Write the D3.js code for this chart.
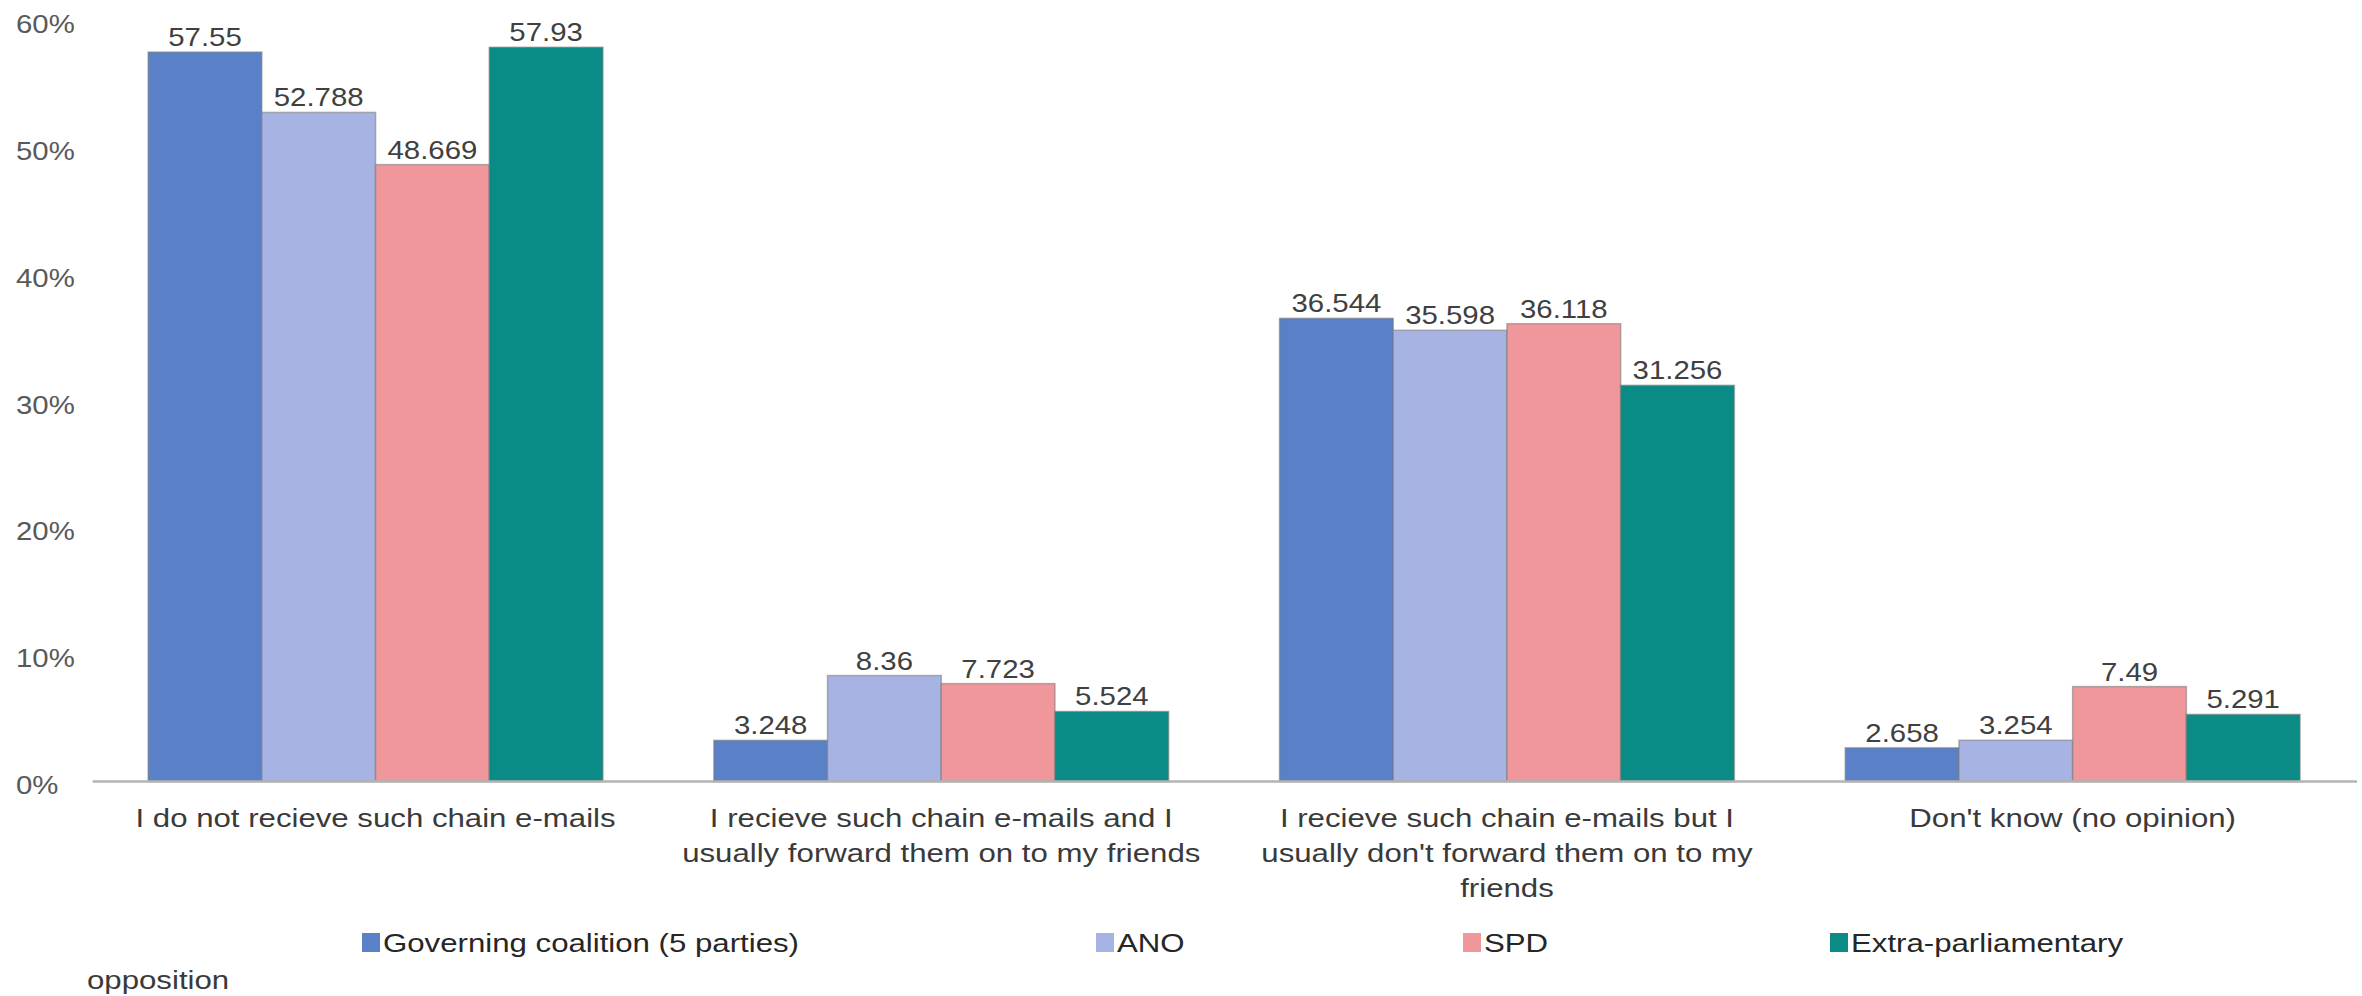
<!DOCTYPE html>
<html>
<head>
<meta charset="utf-8">
<script src="https://cdn.jsdelivr.net/npm/d3@7"></script>
<style>
  html, body { margin: 0; padding: 0; background: #ffffff; }
  svg { display: block; }
  text { font-family: "Liberation Sans", Arial, sans-serif; }
</style>
</head>
<body>
<svg id="chart" width="2362" height="996"></svg>
<script>
// Answer categories (x axis)
const categories = [
  "I do not recieve such chain e-mails",
  "I recieve such chain e-mails and I usually forward them on to my friends",
  "I recieve such chain e-mails but I usually don't forward them on to my friends",
  "Don't know (no opinion)"
];

// Party groups (series)
const seriesNames = [
  "Governing coalition (5 parties)",
  "ANO",
  "SPD",
  "Extra-parliamentary opposition"
];
const seriesColors = ["#5a80c8", "#a7b4e3", "#f0979b", "#0b8b85"];

// Share of respondents (%), one array per series, in category order
const governing = [57.55, 3.248, 36.544, 2.658];
const ano       = [52.788, 8.36, 35.598, 3.254];
const spd       = [48.669, 7.723, 36.118, 7.49];
const extra     = [57.93, 5.524, 31.256, 5.291];

// Y axis ticks
const yTicks = [0, 10, 20, 30, 40, 50, 60];
const yTickLabels = ["0%", "10%", "20%", "30%", "40%", "50%", "60%"];

const seriesValues = [governing, ano, spd, extra];
const rows = categories.map((c, i) => ({
  category: c,
  values: seriesNames.map((s, j) => ({ series: s, idx: j, value: seriesValues[j][i] }))
}));

const svg = d3.select("#chart");
const FONT = 26;
const SX_NUM = 1.13;   // horizontal stretch of numeric labels
const SX_TXT = 1.2;    // horizontal stretch of word labels

const plot = { left: 92.7, right: 2355.5, top: 21, bottom: 781.5 };

const x0 = d3.scaleBand()
  .domain(categories)
  .range([plot.left, plot.right])
  .paddingInner(0)
  .paddingOuter(0);

const x1 = d3.scaleBand()
  .domain(seriesNames)
  .range([x0.bandwidth() * 0.098, x0.bandwidth() * 0.902])
  .padding(0);

const y = d3.scaleLinear()
  .domain([0, 60])
  .range([plot.bottom, plot.top]);

const color = d3.scaleOrdinal().domain(seriesNames).range(seriesColors);

// Helper: stretched text at (x, y)
function stretchedText(parent, x, yy, str, opts) {
  const g = parent.append("g")
    .attr("transform", `translate(${x},${yy}) scale(${opts.sx},1)`);
  return g.append("text")
    .attr("x", 0).attr("y", 0)
    .attr("text-anchor", opts.anchor || "start")
    .attr("dominant-baseline", opts.baseline || "alphabetic")
    .attr("font-size", opts.size || FONT)
    .attr("fill", opts.fill || "#404040")
    .text(str);
}

// Y axis: labels only, left aligned at the chart edge
const yAxis = svg.append("g")
  .attr("class", "y-axis")
  .attr("transform", `translate(${plot.left},0)`)
  .call(d3.axisLeft(y).tickValues(yTicks).tickSize(0)
    .tickFormat((d, i) => yTickLabels[i]));
yAxis.select(".domain").remove();
yAxis.selectAll(".tick text")
  .attr("x", 0)
  .attr("dy", null)
  .attr("dominant-baseline", "central")
  .attr("text-anchor", "start")
  .attr("font-size", FONT)
  .attr("font-family", "Liberation Sans, Arial, sans-serif")
  .attr("fill", "#595959")
  .attr("transform", `translate(${16 - plot.left},3) scale(${SX_NUM},1)`);

// Bars
const groups = svg.append("g").attr("class", "bars")
  .selectAll("g")
  .data(rows)
  .join("g")
  .attr("transform", d => `translate(${x0(d.category)},0)`);

groups.selectAll("rect")
  .data(d => d.values)
  .join("rect")
  .attr("x", d => x1(d.series))
  .attr("y", d => y(d.value))
  .attr("width", x1.bandwidth())
  .attr("height", d => y(0) - y(d.value))
  .attr("fill", d => color(d.series))
  .attr("stroke", "rgba(120,120,120,0.55)")
  .attr("stroke-width", 1.5);

// Value labels above bars
groups.each(function (d) {
  const g = d3.select(this);
  d.values.forEach(v => {
    stretchedText(g, x1(v.series) + x1.bandwidth() / 2, y(v.value) - 6,
      String(v.value), { sx: SX_NUM, anchor: "middle", fill: "#404040" });
  });
});

// X axis with wrapped category labels
const xAxis = svg.append("g")
  .attr("class", "x-axis")
  .attr("transform", `translate(0,${plot.bottom})`)
  .call(d3.axisBottom(x0).tickSize(0).tickSizeOuter(0));
xAxis.select(".domain")
  .attr("stroke", "#b3b3b3")
  .attr("stroke-width", 2.5)
  .attr("d", `M${plot.left},0H${plot.right + 1.5}`);

const WRAP = 550;
const LINE_H = 35;
xAxis.selectAll(".tick").each(function (cat) {
  const tick = d3.select(this);
  tick.select("text").remove();
  // measure words to build lines
  const probe = tick.append("text").attr("font-size", FONT);
  const words = cat.split(" ");
  const lines = [];
  let cur = [];
  words.forEach(w => {
    const trial = cur.concat([w]).join(" ");
    probe.text(trial);
    if (probe.node().getComputedTextLength() * SX_TXT > WRAP && cur.length) {
      lines.push(cur.join(" "));
      cur = [w];
    } else {
      cur.push(w);
    }
  });
  if (cur.length) lines.push(cur.join(" "));
  probe.remove();
  lines.forEach((ln, i) => {
    stretchedText(tick, 0, 36.5 + i * LINE_H, ln,
      { sx: SX_TXT, anchor: "middle", baseline: "central", fill: "#3a3a3a" });
  });
});

// Legend: column slots; text that overflows its slot continues on the next row at the left margin
const legendY = 943;
const legendStart = 358;
const colW = 367;
const spans = [2, 1, 1, 1];
const legend = svg.append("g").attr("class", "legend");
let col = 0;
seriesNames.forEach((name, i) => {
  const lx = legendStart + col * colW;
  const slotW = spans[i] * colW;
  col += spans[i];
  legend.append("rect")
    .attr("x", lx + 4).attr("y", legendY - 10)
    .attr("width", 18).attr("height", 19)
    .attr("fill", seriesColors[i]);
  const probe = legend.append("text").attr("font-size", FONT);
  const words = name.split(" ");
  let first = [];
  let rest = [];
  words.forEach(w => {
    if (rest.length) { rest.push(w); return; }
    probe.text(first.concat([w]).join(" "));
    if (probe.node().getComputedTextLength() * SX_TXT + 26 > slotW && first.length) rest.push(w);
    else first.push(w);
  });
  probe.remove();
  stretchedText(legend, lx + 25, legendY, first.join(" "),
    { sx: SX_TXT, baseline: "central", fill: "#262626" });
  if (rest.length) {
    stretchedText(legend, 87, legendY + 37, rest.join(" "),
      { sx: SX_TXT, baseline: "central", fill: "#3a3a3a" });
  }
});
</script>
</body>
</html>
